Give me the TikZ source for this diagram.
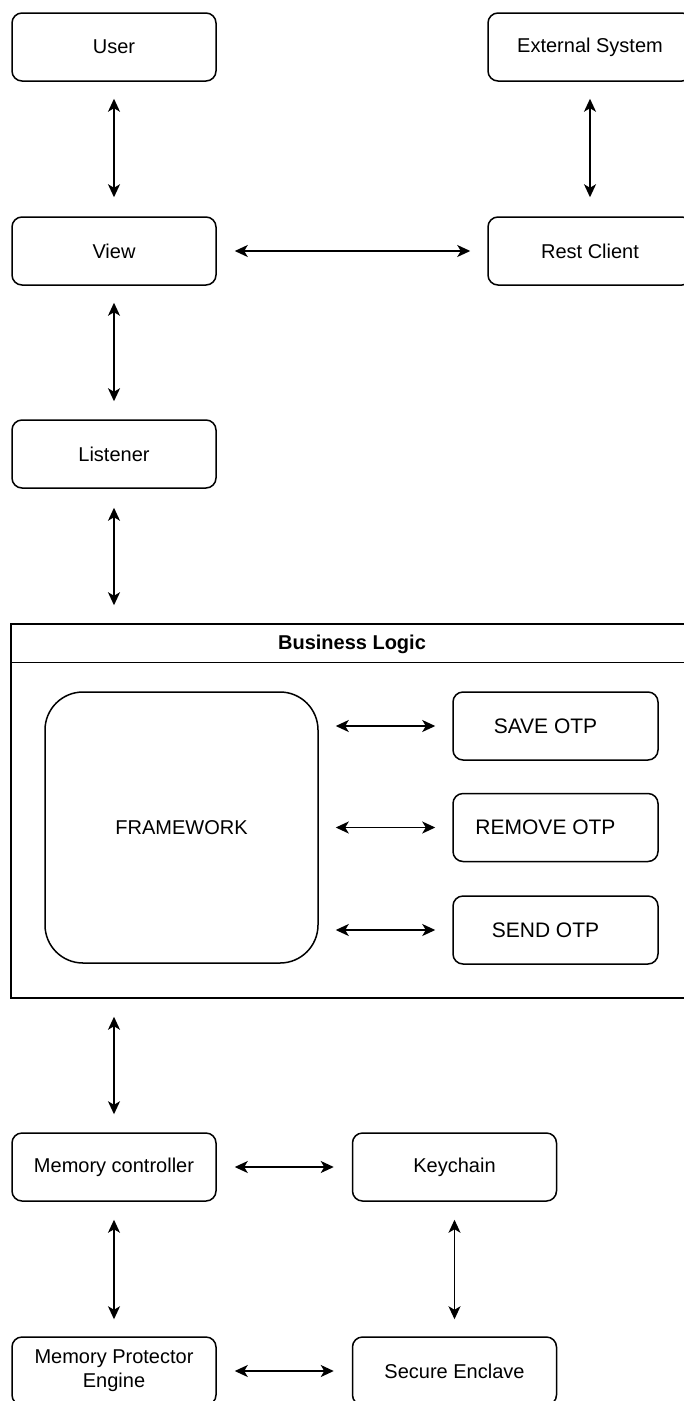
\documentclass[tikz,border=0pt]{standalone}
\usepackage{fontspec}
\setmainfont{Liberation Sans}
\usetikzlibrary{arrows.meta}
\begin{document}
\begin{tikzpicture}[x=1pt,y=-1pt,
  box/.style={draw, line width=1.5pt, rounded corners=10pt,
    minimum width=204pt, minimum height=68pt, inner sep=0pt,
    align=center, font=\fontsize{20}{24}\selectfont},
  otpbox/.style={box, minimum width=205pt},
  otplabel/.style={font=\fontsize{21}{24}\selectfont, xshift=-10pt},
  container/.style={draw, line width=1.5pt, minimum width=682pt,
    minimum height=374pt, inner sep=0pt},
  bigbox/.style={draw, line width=1.5pt, rounded corners=38pt,
    minimum width=273pt, minimum height=271pt, inner sep=0pt,
    font=\fontsize{20}{24}\selectfont},
  biarrow/.style={line width=1.5pt, {Stealth[length=13pt,width=12pt,inset=3.5pt]}-{Stealth[length=13pt,width=12pt,inset=3.5pt]}},
]
\useasboundingbox (0,0) rectangle (684,1401);
\clip (0,0) rectangle (684,1401);

% upper chain
\node[box] (user)     at (114,47)  {User};
\node[box] (view)     at (114,251) {View};
\node[box] (listener) at (114,454) {Listener};
\node[box] (external) at (590,47)  {External System};
\node[box] (rest)     at (590,251) {Rest Client};

% business logic swimlane
\node[container] (business) at (352,811) {};
\draw[line width=1.5pt] ([yshift=-39pt]business.north west) -- ([yshift=-39pt]business.north east);
\node[font=\fontsize{20}{24}\selectfont\bfseries] (title) at (352,644) {Business Logic};
\node[bigbox] (framework) at (181.5,827.5) {FRAMEWORK};
\node[otpbox, label={[otplabel]center:SAVE OTP}]   (save)   at (555.5,726)   {};
\node[otpbox, label={[otplabel]center:REMOVE OTP}] (remove) at (555.5,827.5) {};
\node[otpbox, label={[otplabel]center:SEND OTP}]   (send)   at (555.5,930)   {};

% storage layer
\node[box] (memctl)   at (114,1167)   {Memory controller};
\node[box] (keychain) at (454.5,1167) {Keychain};
\node[box] (mpe)      at (114,1371)   {Memory Protector\\Engine};
\node[box] (secure)   at (454.5,1371) {Secure Enclave};

% connectors
\draw[biarrow, shorten <=17pt, shorten >=19pt] (user) -- (view);
\draw[biarrow, shorten <=17pt, shorten >=19pt] (external) -- (rest);
\draw[biarrow, shorten <=18pt, shorten >=17pt] (view) -- (rest);
\draw[biarrow, shorten <=17pt, shorten >=18pt] (view) -- (listener);
\draw[biarrow, shorten <=19pt, shorten >=18pt] (listener.south) -- (listener.south |- business.north);
\draw[biarrow, shorten <=17pt, shorten >=17pt] (framework.east |- save.west) -- (save.west);
\draw[biarrow, shorten <=17pt, shorten >=17pt] (framework.east |- remove.west) -- (remove.west);
\draw[biarrow, shorten <=17pt, shorten >=17pt] (framework.east |- send.west) -- (send.west);
\draw[biarrow, shorten <=18pt, shorten >=18pt] (memctl.north |- business.south) -- (memctl.north);
\draw[biarrow, shorten <=18pt, shorten >=18pt] (memctl) -- (keychain);
\draw[biarrow, shorten <=18pt, shorten >=17pt] (memctl) -- (mpe);
\draw[biarrow, shorten <=18pt, shorten >=17pt] (keychain) -- (secure);
\draw[biarrow, shorten <=18pt, shorten >=18pt] (mpe) -- (secure);
\end{tikzpicture}
\end{document}
